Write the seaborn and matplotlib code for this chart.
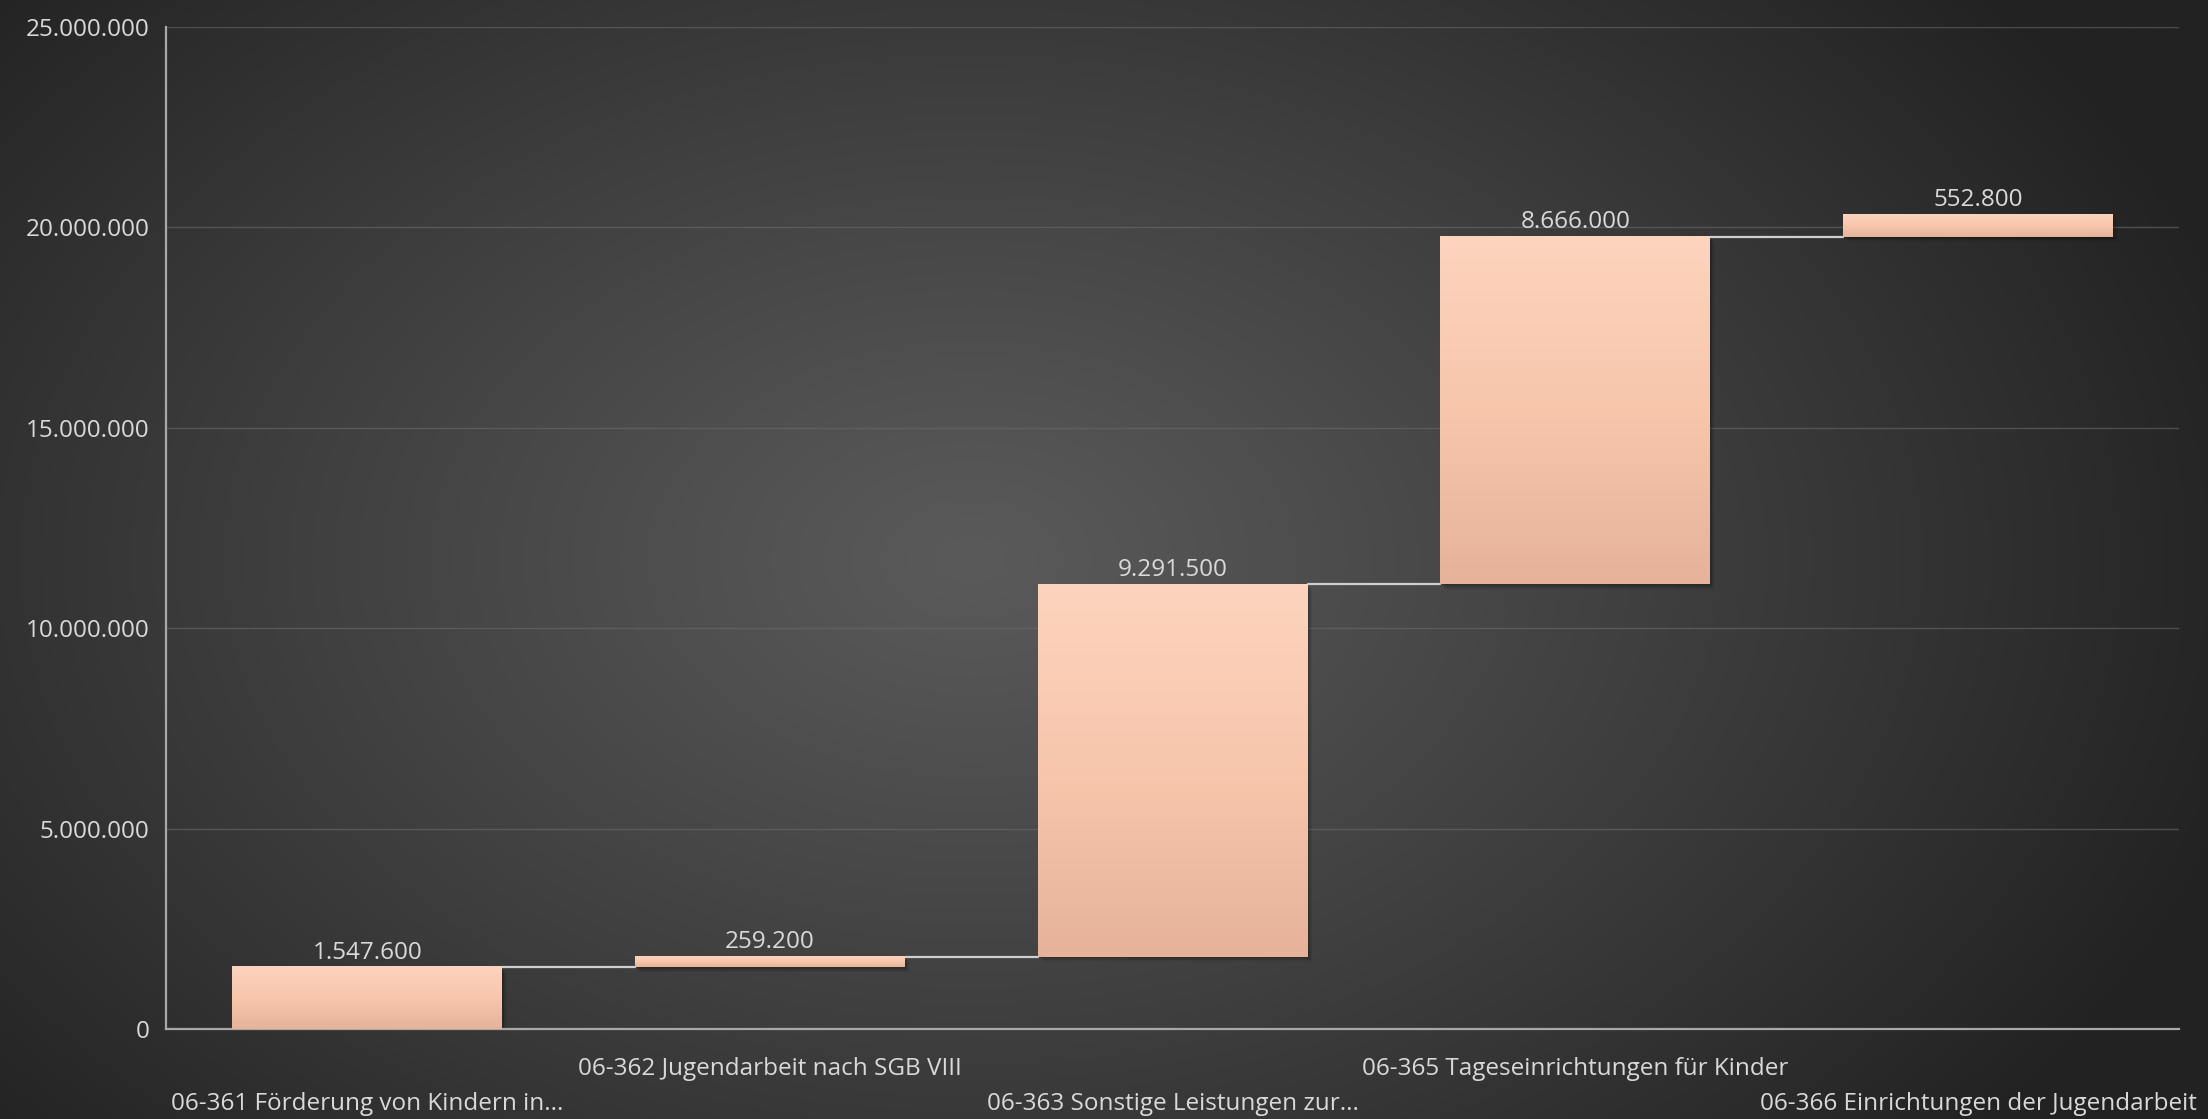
"""
Wasserfall-Diagramm: Produktgruppen 06-361 bis 06-366 (Kinder- und Jugendhilfe)
"""
import numpy as np
import pandas as pd
import matplotlib.pyplot as plt
import seaborn as sns
from matplotlib.colors import LinearSegmentedColormap
from matplotlib.patches import Rectangle

sns.set_style("dark")
plt.rcParams["font.family"] = ["Open Sans", "DejaVu Sans"]

# ---------------------------------------------------------
# DATA
# ---------------------------------------------------------
categories = [
    "06-361 Förderung von Kindern in...",
    "06-362 Jugendarbeit nach SGB VIII",
    "06-363 Sonstige Leistungen zur...",
    "06-365 Tageseinrichtungen für Kinder",
    "06-366 Einrichtungen der Jugendarbeit",
]
values = [1547600, 259200, 9291500, 8666000, 552800]
y_ticks = [0, 5000000, 10000000, 15000000, 20000000, 25000000]


def de_fmt(v):
    return f"{int(v):,}".replace(",", ".")


df = pd.DataFrame({"Kategorie": categories, "Betrag": values})
tops = np.cumsum(values)
bases = tops - np.array(values)

TEXT = "#d9d9d9"
BAR_W = 0.67

# ---------------------------------------------------------
# FIGURE + BACKGROUND
# ---------------------------------------------------------
fig = plt.figure(figsize=(22.08, 11.19), dpi=100)
fig.patch.set_facecolor("#2b2b2b")

bg = fig.add_axes([0, 0, 1, 1], zorder=-10)
yy, xx = np.mgrid[0:1:300j, 0:1:600j]
d = np.sqrt(((xx - 0.44) / 0.60) ** 2 + ((yy - 0.50) / 0.80) ** 2)
d = np.clip(d, 0, 1) ** 1.1
center, edge = np.array([0x5a, 0x5a, 0x5a]) / 255, np.array([0x22, 0x22, 0x22]) / 255
img = center[None, None, :] + (edge - center)[None, None, :] * d[:, :, None]
bg.imshow(img, extent=[0, 1, 0, 1], aspect="auto", interpolation="bilinear")
bg.set_axis_off()

ax = fig.add_axes([0.0752, 0.0804, 0.9118, 0.8955])
ax.set_facecolor("none")

# ---------------------------------------------------------
# BARS (seaborn draws them, then shift to waterfall bases)
# ---------------------------------------------------------
sns.barplot(data=df, x="Kategorie", y="Betrag", width=BAR_W, color="#f9c8ae",
            ax=ax, zorder=3, linewidth=0)

cmap = LinearSegmentedColormap.from_list("peach", ["#e6b39a", "#f7c6ab", "#fdd4be"])
grad = np.linspace(0, 1, 256)[:, None]

for p, b in zip(ax.patches, bases):
    p.set_y(b)
    x0, w, h = p.get_x(), p.get_width(), p.get_height()
    # soft shadow
    for k, a in enumerate([0.16, 0.10, 0.06]):
        ax.add_patch(Rectangle((x0 + 0.004 * (k + 1), b - 45000 * (k + 1)), w, h,
                               facecolor="black", alpha=a, linewidth=0, zorder=2))
    ax.imshow(grad, extent=[x0, x0 + w, b, b + h], origin="lower", aspect="auto",
              cmap=cmap, zorder=4, interpolation="bilinear")

# connector lines
for i in range(len(values) - 1):
    x_start = i + BAR_W / 2
    x_end = i + 1 - BAR_W / 2
    ax.plot([x_start, x_end], [tops[i], tops[i]], color="#cfcfcf", lw=1.6, zorder=3)

# value labels
for i, v in enumerate(values):
    ax.text(i, tops[i] + 60000, de_fmt(v), ha="center", va="bottom",
            color=TEXT, fontsize=17.5, zorder=5)

# ---------------------------------------------------------
# AXES STYLE
# ---------------------------------------------------------
ax.set_xlim(-0.5, 4.5)
ax.set_ylim(0, 25000000)
ax.set_yticks(y_ticks)
ax.set_yticklabels([de_fmt(t) for t in y_ticks], color=TEXT, fontsize=17.5)
ax.yaxis.grid(True, color="#6a6a6a", lw=1.0, alpha=0.6)
ax.xaxis.grid(False)
ax.set_axisbelow(True)
ax.set_xlabel("")
ax.set_ylabel("")

ax.set_xticks(range(len(categories)))
ax.set_xticklabels(categories, color=TEXT, fontsize=17.5)
ax.tick_params(axis="both", length=0)
ax.tick_params(axis="y", pad=12)
for i, t in enumerate(ax.xaxis.get_major_ticks()):
    t.set_pad(45 if i % 2 == 0 else 20)

for s in ["top", "right"]:
    ax.spines[s].set_visible(False)
for s in ["left", "bottom"]:
    ax.spines[s].set_visible(True)
    ax.spines[s].set_color("#a8a8a8")
    ax.spines[s].set_linewidth(1.6)

fig.savefig("out.png", dpi=100, facecolor=fig.get_facecolor())
